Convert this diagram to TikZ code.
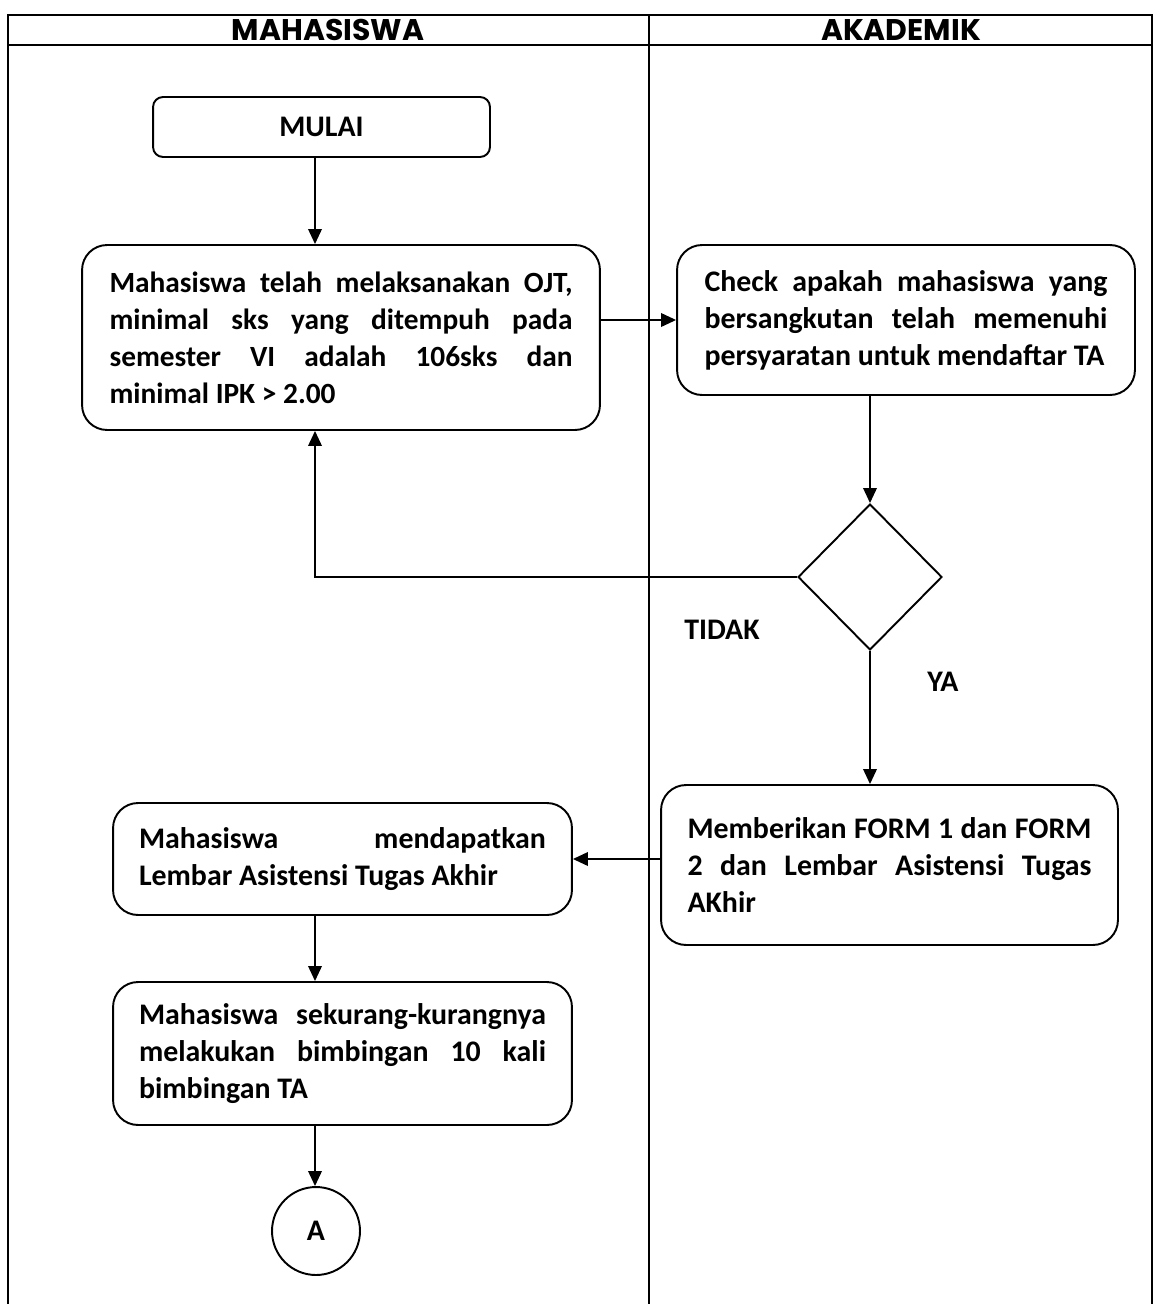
\documentclass[tikz,border=0pt]{standalone}
\usepackage{fontspec}
\setmainfont{Carlito}
\newfontfamily\headfont{Poppins}
\usetikzlibrary{shapes.geometric}
\usetikzlibrary{arrows.meta, positioning}
\hyphenpenalty=10000
\exhyphenpenalty=10000

\begin{document}
\begin{tikzpicture}[x=0.02cm, y=-0.02cm,
    lane/.style={line width=0.7pt},
    proc/.style={draw, line width=1.1pt, rounded corners=0.5cm,
        align=justify, inner ysep=0pt,
        font=\fontsize{17}{21}\selectfont\bfseries},
    startbox/.style={draw, line width=1.1pt, rounded corners=0.2cm,
        minimum width=6.74cm, minimum height=1.2cm,
        font=\fontsize{17}{21}\selectfont\bfseries},
    decision/.style={draw, diamond, line width=1.1pt, inner sep=0pt,
        minimum width=2.88cm, minimum height=2.92cm},
    connector/.style={draw, circle, line width=1.1pt, minimum size=1.76cm,
        inner sep=0pt, font=\fontsize{17}{21}\selectfont\bfseries},
    lbl/.style={font=\fontsize{17}{21}\selectfont\bfseries},
    head/.style={font=\headfont\fontsize{17}{20}\selectfont\bfseries},
    flow/.style={line width=1.1pt, -{Triangle[length=0.3cm, width=0.27cm]}},
    flowline/.style={line width=1.1pt}]

    \useasboundingbox (0,0) rectangle (1154,1304);

    % swimlanes
    \draw[lane] (8,1304) -- (8,15) -- (1152,15) -- (1152,1304);
    \draw[lane] (8,45) -- (1152,45);
    \draw[lane] (649,15) -- (649,1304);
    \node[head] (hmhs) at (328,30) {MAHASISWA};
    \node[head] (hakd) at (901,30) {AKADEMIK};

    \coordinate (axis) at (315,0);

    % MAHASISWA
    \node[startbox] (mulai) at (321.5,127) {MULAI};
    \node[proc, text width=9.26cm, inner xsep=0.55cm, minimum height=3.7cm,
        font=\fontsize{16.7}{21}\selectfont\bfseries]
        (syarat) at (341,337.5)
        {Mahasiswa telah melaksanakan OJT, minimal sks yang ditempuh pada semester VI adalah 106sks dan minimal IPK > 2.00};
    \node[proc, text width=8.14cm, inner xsep=0.52cm, minimum height=2.24cm]
        (lembar) at (342.5,859)
        {Mahasiswa mendapatkan Lembar Asistensi Tugas Akhir};
    \node[proc, text width=8.14cm, inner xsep=0.52cm, minimum height=2.86cm]
        (bimbing) at (342.5,1053.5)
        {Mahasiswa sekurang-kurangnya melakukan bimbingan 10 kali bimbingan TA};
    \node[connector] (konA) at (316,1231) {A};

    % AKADEMIK
    \node[proc, text width=8.06cm, inner xsep=0.55cm, minimum height=3cm]
        (cek) at (906,320)
        {Check apakah mahasiswa yang bersangkutan telah memenuhi persyaratan untuk mendaftar TA};
    \node[decision] (dec) at (870,577) {};
    \node[lbl] (tidak) at (722,630) {TIDAK};
    \node[lbl] (ya) at (943,682) {YA};
    \node[proc, text width=8.08cm, inner xsep=0.53cm, minimum height=3.2cm]
        (form) at (889.5,865)
        {Memberikan FORM 1 dan FORM 2 dan Lembar Asistensi Tugas AKhir};

    % connectors
    \draw[flow] (mulai.south -| axis) -- (syarat.north -| axis);
    \draw[flow] (syarat.east |- cek) -- (cek.west);
    \draw[flow] (cek.south -| dec) -- (dec.north);
    \draw[flow] (dec.west) -- (dec.west -| axis) -- (syarat.south -| axis);
    \draw[flow] (dec.south) -- (form.north -| dec);
    \draw[flow] (form.west |- lembar) -- (lembar.east);
    \draw[flow] (lembar.south -| axis) -- (bimbing.north -| axis);
    \draw[flow] (bimbing.south -| axis) -- (konA.north -| axis);

\end{tikzpicture}
\end{document}
